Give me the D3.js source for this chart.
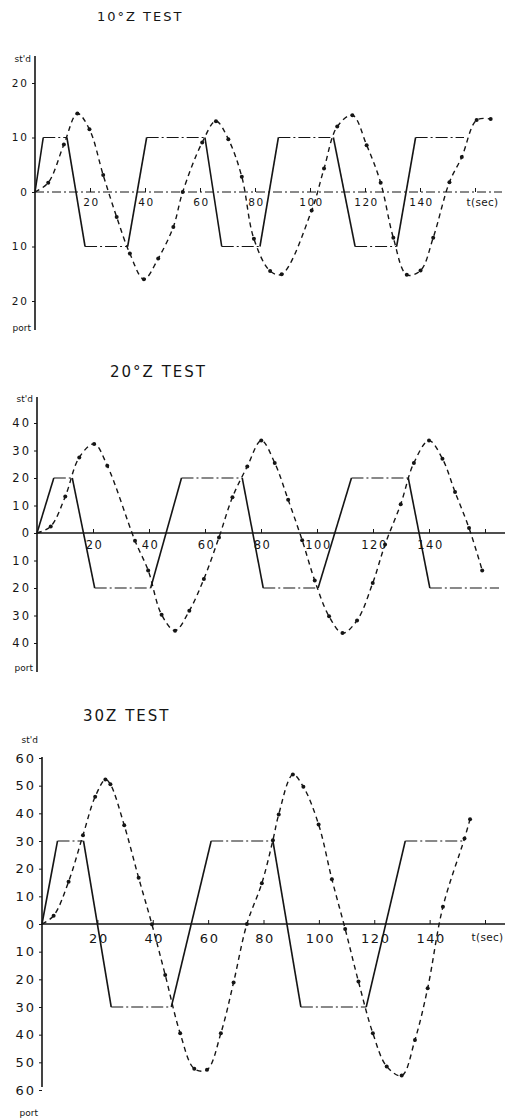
<!DOCTYPE html>
<html>
<head>
<meta charset="utf-8">
<script src="https://cdn.jsdelivr.net/npm/d3@7"></script>
<style>
    body { margin: 0; background: #fff; }
    text { font-family: "DejaVu Sans", sans-serif; fill: #151515; }
</style>
</head>
<body>
<div id="chart"></div>
<script>
// ---- data ----
var titles = ["10°Z TEST", "20°Z TEST", "30Z TEST"];
var xTicks = [20, 40, 60, 80, 100, 120, 140, 160];

var yTicks10 = [20, 10, 0, -10, -20];
var yTicks20 = [40, 30, 20, 10, 0, -10, -20, -30, -40];
var yTicks30 = [60, 50, 40, 30, 20, 10, 0, -10, -20, -30, -40, -50, -60];

// rudder angle (solid)
var rudder10T = [0, 3, 11.6, 18.2, 33.7, 40.6, 61.8, 67.9, 81.8, 88.5, 108.5, 116.4, 131.5, 138.4, 156];
var rudder10V = [0, 10, 10, -10, -10, 10, 10, -10, -10, 10, 10, -10, -10, 10, 10];
var rudder20T = [0, 6, 12.6, 20.6, 40.6, 51.6, 73.3, 80.8, 100.4, 112.3, 132.6, 140.3, 165];
var rudder20V = [0, 20, 20, -20, -20, 20, 20, -20, -20, 20, 20, -20, -20];
var rudder30T = [0, 5.6, 15, 25, 46.7, 61.1, 83.4, 93.5, 117.1, 131.2, 152.6];
var rudder30V = [0, 30, 30, -30, -30, 30, 30, -30, -30, 30, 30];

// heading (dashed with dots)
var heading10T = [0, 4.8, 10.5, 15.4, 19.8, 24.8, 29.7, 34.5, 39.6, 44.8, 50.3, 53.7, 60.8, 65.8, 70.3, 75.2, 79.6, 85.5, 89.7, 100.6, 105.1, 109.9, 115.4, 120.6, 125.7, 130.3, 135.2, 140.2, 144.8, 150.7, 155.2, 160.6, 165.7];
var heading10V = [0, 1.7, 8.7, 14.4, 11.5, 3.1, -4.6, -11.3, -16.0, -12.2, -6.4, 0, 9.1, 13.0, 9.7, 2.8, -8.6, -14.5, -15.1, -3.4, 4.3, 12.0, 14.1, 8.6, 1.7, -8.4, -15.2, -14.4, -8.4, 1.8, 6.4, 13.2, 13.4];
var heading20T = [0, 4.9, 10.1, 15.1, 20.4, 25.1, 35, 39.7, 44.5, 49.3, 54.4, 59.6, 65, 69.8, 75.1, 80.1, 84.9, 89.7, 94.7, 99.2, 104.3, 109.1, 114.3, 119.9, 124.3, 129.9, 134.6, 140, 144.8, 149.3, 154.3, 159];
var heading20V = [0, 2.4, 13.3, 27.5, 32.4, 24.5, -2.8, -13.6, -29.7, -35.5, -28.3, -16.7, -1.6, 13.0, 24.2, 33.6, 25.5, 12.1, -2.6, -17.3, -30.3, -36.4, -31.8, -18.2, -4.2, 10.5, 25.5, 33.6, 27.0, 14.9, 1.8, -13.6];
var heading30T = [0, 4.2, 9.6, 14.8, 19.2, 22.9, 24.7, 29.7, 34.9, 39.7, 44.5, 49.9, 55, 59.6, 64.6, 69.2, 74, 79.4, 83.4, 85.5, 90.6, 94.4, 99.9, 104.7, 109.5, 114.3, 119.5, 124.5, 129.9, 134.7, 139.3, 144.8, 152.6, 154.6];
var heading30V = [0, 3.0, 15.3, 32.1, 46.0, 52.2, 50.5, 35.7, 16.7, -0.1, -18.4, -39.5, -52.3, -52.7, -39.5, -21.1, 0, 14.7, 30.3, 39.6, 54.0, 49.6, 36.0, 16.2, -1.8, -20.8, -39.5, -51.5, -54.8, -41.9, -23.2, 6.2, 30.9, 37.9];

// ---- layout of each panel (pixels) ----
var panels = [
    { title: titles[0], titleX: 97, titleY: 21, titleSize: 13,
      x0: 35, x1: 475, axisEnd: 502, yMax: 20, yTop: 83, yBot: 301,
      axisTop: 56, axisBot: 330, fontSize: 10.5, xPad: 7, stdY: 62, portY: 331,
      dashedAxis: true, endLabel: "t(sec)", endDx: 7,
      yTicks: yTicks10, rT: rudder10T, rV: rudder10V, hT: heading10T, hV: heading10V },
    { title: titles[1], titleX: 110, titleY: 377, titleSize: 15,
      x0: 37, x1: 485, axisEnd: 505, yMax: 40, yTop: 423, yBot: 643,
      axisTop: 397, axisBot: 672, fontSize: 11.5, xPad: 8, stdY: 402, portY: 671,
      dashedAxis: false, endLabel: "", endDx: 0,
      yTicks: yTicks20, rT: rudder20T, rV: rudder20V, hT: heading20T, hV: heading20V },
    { title: titles[2], titleX: 83, titleY: 721, titleSize: 15,
      x0: 42, x1: 485, axisEnd: 505, yMax: 60, yTop: 758, yBot: 1090,
      axisTop: 757, axisBot: 1087, fontSize: 13, xPad: 10, stdY: 743, portY: 1116,
      dashedAxis: false, endLabel: "t(sec)", endDx: 2,
      yTicks: yTicks30, rT: rudder30T, rV: rudder30V, hT: heading30T, hV: heading30V }
];

var svg = d3.select("#chart")
    .append("svg")
    .attr("width", 505)
    .attr("height", 1120);

var ink = "#151515";

function drawPanel(p) {
    var g = svg.append("g");

    var x = d3.scaleLinear().domain([0, 160]).range([p.x0, p.x1]);
    var y = d3.scaleLinear().domain([p.yMax, -p.yMax]).range([p.yTop, p.yBot]);

    // title
    g.append("text")
        .attr("x", p.titleX)
        .attr("y", p.titleY)
        .attr("font-size", p.titleSize)
        .attr("letter-spacing", 2)
        .text(p.title);

    // st'd / port
    g.append("text").attr("x", p.x0 - 4).attr("y", p.stdY)
        .attr("text-anchor", "end").attr("font-size", 9).text("st'd");
    g.append("text").attr("x", p.x0 - 4).attr("y", p.portY)
        .attr("text-anchor", "end").attr("font-size", 9).text("port");

    // vertical axis line
    g.append("line")
        .attr("x1", p.x0).attr("x2", p.x0)
        .attr("y1", p.axisTop).attr("y2", p.axisBot)
        .attr("stroke", ink).attr("stroke-width", 1.6);

    // y ticks (port side written without sign)
    var yAxis = d3.axisLeft(y)
        .tickValues(p.yTicks)
        .tickSize(3)
        .tickPadding(3)
        .tickFormat(function (d) { return Math.abs(d); });
    var yg = g.append("g")
        .attr("transform", "translate(" + p.x0 + ",0)")
        .call(yAxis);
    yg.select(".domain").remove();
    yg.selectAll("line").attr("stroke", ink);
    yg.selectAll("text")
        .attr("font-size", p.fontSize)
        .attr("letter-spacing", 2)
        .attr("font-family", "DejaVu Sans")
        .attr("fill", ink);

    // horizontal zero line
    g.append("line")
        .attr("x1", p.x0).attr("x2", p.axisEnd)
        .attr("y1", y(0)).attr("y2", y(0))
        .attr("stroke", ink)
        .attr("stroke-width", p.dashedAxis ? 1 : 1.4)
        .attr("stroke-dasharray", p.dashedAxis ? "9,3,2,3" : null);

    var xAxis = d3.axisBottom(x)
        .tickValues(xTicks)
        .tickSize(-4)
        .tickPadding(p.xPad)
        .tickFormat(function (d) { return d === 160 ? p.endLabel : d; });
    var xg = g.append("g")
        .attr("transform", "translate(0," + y(0) + ")")
        .call(xAxis);
    xg.select(".domain").remove();
    xg.selectAll("line").attr("stroke", ink);
    xg.selectAll("text")
        .attr("font-size", function (d) { return d === 160 ? 10.5 : p.fontSize; })
        .attr("letter-spacing", function (d) { return d === 160 ? 0.3 : 1.5; })
        .attr("font-family", "DejaVu Sans")
        .attr("fill", ink)
        .attr("dx", function (d) { return d === 160 ? p.endDx : 1; });

    // rudder: ramps solid, holds dash-dot
    var rud = p.rT.map(function (t, i) { return [t, p.rV[i]]; });
    for (var i = 0; i < rud.length - 1; i++) {
        var flat = rud[i][1] === rud[i + 1][1];
        g.append("line")
            .attr("x1", x(rud[i][0])).attr("y1", y(rud[i][1]))
            .attr("x2", x(rud[i + 1][0])).attr("y2", y(rud[i + 1][1]))
            .attr("stroke", ink)
            .attr("stroke-width", flat ? 1.2 : 1.6)
            .attr("stroke-dasharray", flat ? "12,3,2,3" : null);
    }

    // heading: dashed curve + dots
    var head = p.hT.map(function (t, i) { return [t, p.hV[i]]; });
    var line = d3.line()
        .x(function (d) { return x(d[0]); })
        .y(function (d) { return y(d[1]); })
        .curve(d3.curveCatmullRom.alpha(0.5));
    g.append("path")
        .datum(head)
        .attr("d", line)
        .attr("fill", "none")
        .attr("stroke", ink)
        .attr("stroke-width", 1.4)
        .attr("stroke-dasharray", "5,4");
    g.selectAll("circle.dot")
        .data(head.filter(function (d) { return d[0] > 0; }))
        .enter()
        .append("circle")
        .attr("class", "dot")
        .attr("cx", function (d) { return x(d[0]); })
        .attr("cy", function (d) { return y(d[1]); })
        .attr("r", 2)
        .attr("fill", ink);
}

panels.forEach(drawPanel);
</script>
</body>
</html>
